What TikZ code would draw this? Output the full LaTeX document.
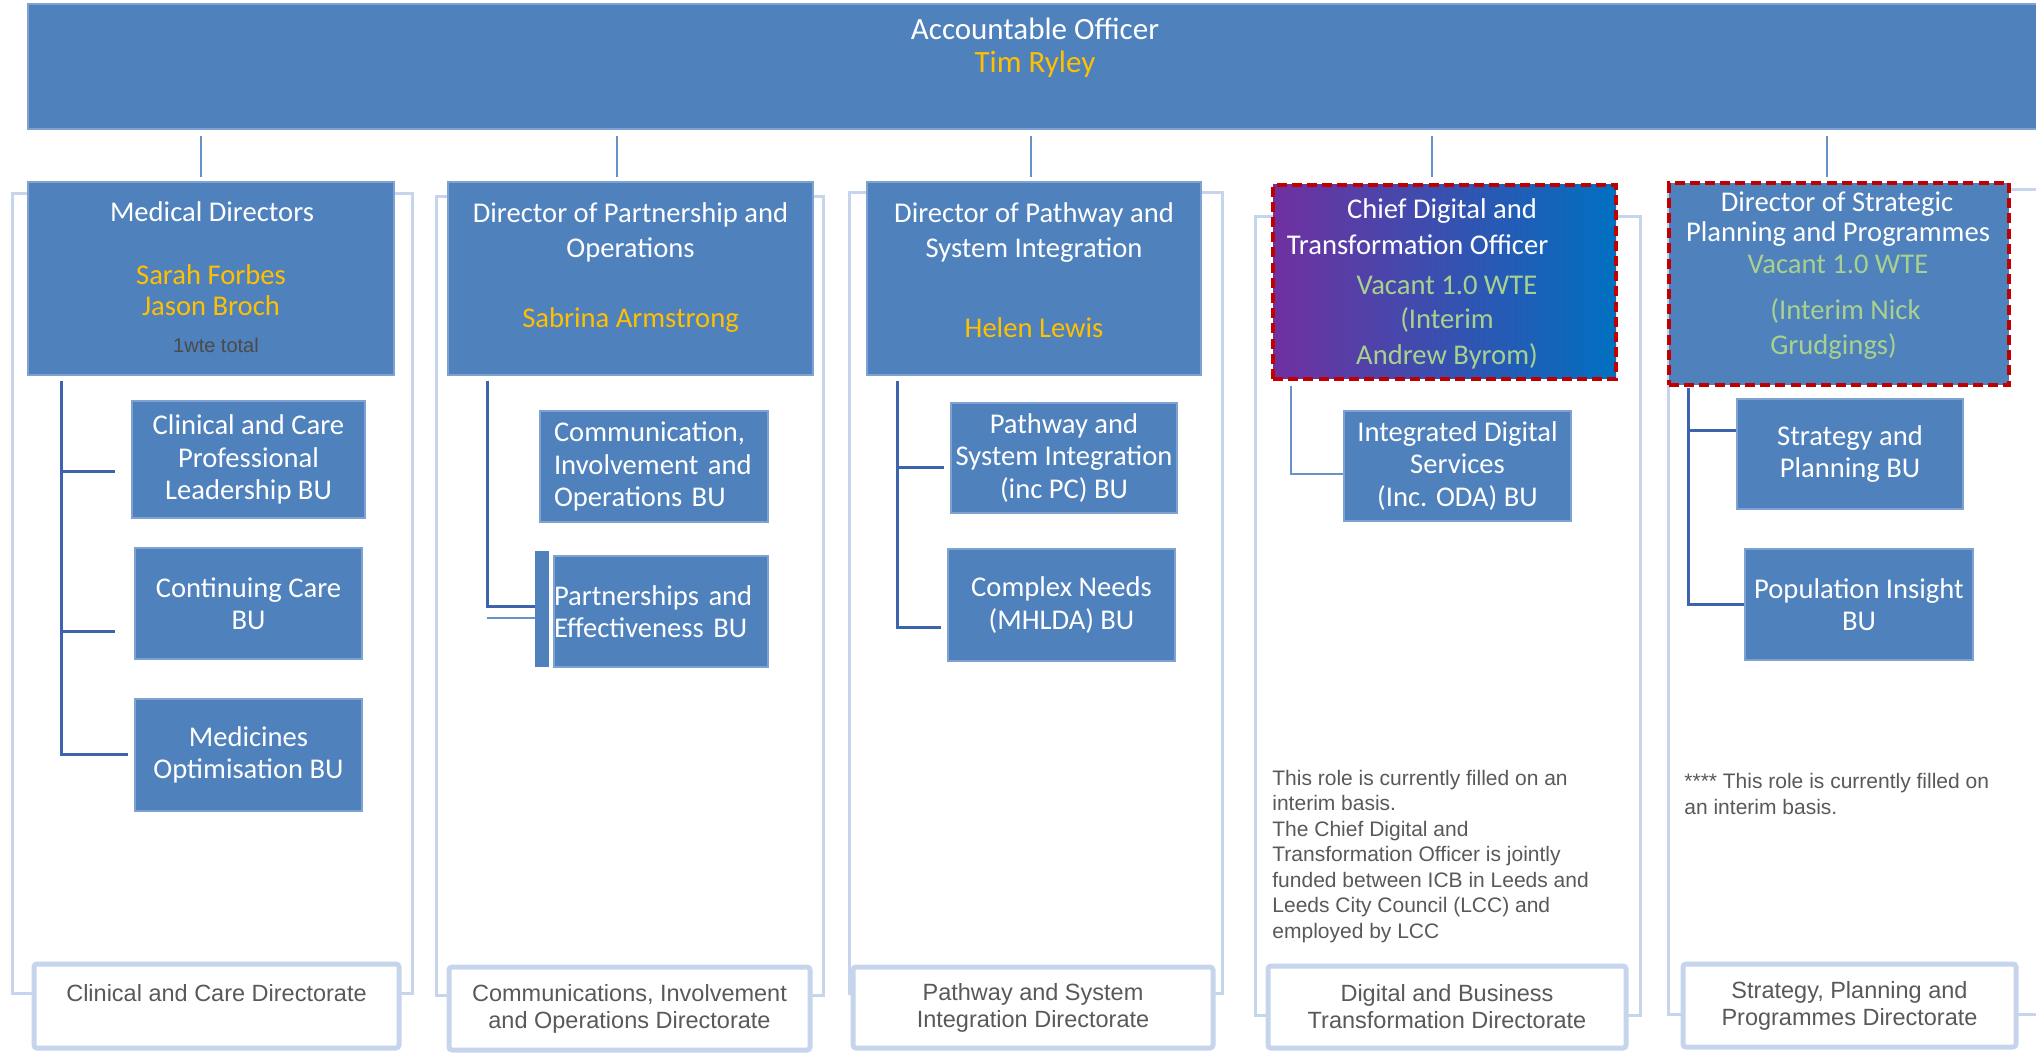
\documentclass[tikz,border=0pt]{standalone}
\usepackage{fontspec}
\setmainfont{Carlito}
\newfontfamily\arialf{Liberation Sans}
\usetikzlibrary{calc}
\definecolor{boxblue}{HTML}{4F81BD}
\definecolor{boxedge}{HTML}{7EA2D2}
\definecolor{connblue}{HTML}{3C63AC}
\definecolor{framecol}{HTML}{C6D5EC}
\definecolor{nameorange}{HTML}{FFC000}
\definecolor{vacgreen}{HTML}{A9D18E}
\definecolor{dashred}{HTML}{C00000}
\definecolor{notegray}{HTML}{595959}
\definecolor{wtegray}{HTML}{4A4A4A}
\definecolor{cdpurple}{HTML}{7030A0}
\definecolor{cdblue}{HTML}{0070C0}
\definecolor{thinblue}{HTML}{6A92CA}
\newcommand\bxnode[7]{%
  \pgfmathsetmacro\bxw{(#5-#3)*0.5}%
  \pgfmathsetmacro\bxh{(#6-#4)*0.5}%
  \pgfmathsetmacro\bxcx{(#3+#5)/2}%
  \pgfmathsetmacro\bxcy{(#4+#6)/2}%
  \node[#1, minimum width=\bxw pt, minimum height=\bxh pt] (#2) at (\bxcx,\bxcy) {#7};}
\tikzset{
  framebox/.style={draw=framecol, line width=1.5pt, inner sep=0pt},
  topbox/.style={fill=boxblue, draw=boxedge, line width=0.6pt, inner sep=0pt},
  ltwobox/.style={fill=boxblue, draw=boxedge, line width=0.6pt, inner sep=0pt},
  bubox/.style={fill=boxblue, draw=boxedge, line width=0.6pt, text=white,
    font=\fontsize{14.3pt}{16.25pt}\selectfont, align=center, inner sep=1pt},
  barbox/.style={fill=boxblue, draw=none, inner sep=0pt},
  dirbox/.style={fill=white, draw=framecol, line width=2.5pt, rounded corners=1.5pt,
    text=notegray, font=\arialf\fontsize{11.75pt}{13.5pt}\selectfont, align=center, inner sep=1pt},
  conn/.style={draw=connblue, line width=1.5pt},
  thinconn/.style={draw=thinblue, line width=0.8pt},
  topconn/.style={draw=thinblue, line width=0.75pt},
  reddash/.style={draw=dashred, line width=2pt, dash pattern=on 5pt off 2.6pt},
  ttl/.style={text=white, font=\fontsize{14.3pt}{16pt}\selectfont, anchor=base, inner sep=0pt},
  bigttl/.style={text=white, font=\fontsize{15.5pt}{18pt}\selectfont, anchor=base, inner sep=0pt},
  nm/.style={text=nameorange, font=\fontsize{14.3pt}{16pt}\selectfont, anchor=base, inner sep=0pt},
  bignm/.style={text=nameorange, font=\fontsize{15.5pt}{18pt}\selectfont, anchor=base, inner sep=0pt},
  vac/.style={text=vacgreen, font=\fontsize{14.3pt}{16pt}\selectfont, anchor=base, inner sep=0pt},
  wte/.style={text=wtegray, font=\arialf\fontsize{10pt}{12pt}\selectfont, anchor=base, inner sep=0pt},
  note/.style={text=notegray, font=\arialf\fontsize{10.5pt}{12.75pt}\selectfont, align=left, anchor=base west, inner sep=0pt},
}
\begin{document}
\begin{tikzpicture}[x=0.5pt, y=-0.5pt]
\useasboundingbox (0,0) rectangle (2036,1053);
\clip (0,0) rectangle (2036,1053);
\fill[white] (0,0) rectangle (2036,1053);

% column frames
\bxnode{framebox}{f1}{12.6}{194}{412}{993}{}
\bxnode{framebox}{f2}{436}{197}{823}{995}{}
\bxnode{framebox}{f3}{849}{193}{1222}{993}{}
\bxnode{framebox}{f4}{1255}{217}{1640}{1015}{}
\bxnode{framebox}{f5}{1668}{190}{2060}{1014}{}

% directorate boxes
\bxnode{dirbox}{dir1}{34}{964}{399}{1048}{Clinical and Care Directorate\\\mbox{}}
\bxnode{dirbox}{dir2}{449}{967}{810}{1050}{Communications, Involvement\\and Operations Directorate}
\bxnode{dirbox}{dir3}{853}{967}{1213}{1048}{Pathway and System\\Integration Directorate}
\bxnode{dirbox}{dir4}{1268}{966}{1626}{1048}{Digital and Business\\Transformation Directorate}
\bxnode{dirbox}{dir5}{1683}{964}{2016}{1047}{Strategy, Planning and\\Programmes Directorate}

% top box
\bxnode{topbox}{top}{28}{4}{2042}{129}{}
\node[bigttl] (t0a) at (1035,39.5) {Accountable Officer};
\node[bignm] (t0b) at (1035,73) {Tim Ryley};

% level 2 boxes
\bxnode{ltwobox}{md}{28}{182}{394}{375}{}
\bxnode{ltwobox}{po}{448}{182}{813}{375}{}
\bxnode{ltwobox}{ps}{867}{182}{1201}{375}{}
\bxnode{left color=cdpurple, right color=cdblue, reddash, inner sep=0pt}{cd}{1273}{185}{1616}{379}{}
\bxnode{fill=boxblue, reddash, inner sep=0pt}{sp}{1669}{183}{2009}{385}{}

\node[ttl] (mdt1) at (212,222) {Medical Directors};
\node[nm] (mdt2) at (211,285) {Sarah Forbes};
\node[nm] (mdt3) at (211,316) {Jason Broch};
\node[wte] (mdt4) at (216,352.5) {1wte total};

\node[ttl] (pot1) at (630.5,222.7) {Director of Partnership and};
\node[ttl] (pot2) at (630.5,258) {Operations};
\node[nm] (pot3) at (630.5,328) {Sabrina Armstrong};

\node[ttl] (pst1) at (1034,223) {Director of Pathway and};
\node[ttl] (pst2) at (1034,258) {System Integration};
\node[nm] (pst3) at (1034,338) {Helen Lewis};

\node[ttl] (cdt1) at (1442,219) {Chief Digital and};
\node[ttl] (cdt2) at (1417.5,255) {Transformation Officer};
\node[vac] (cdt3) at (1447,295) {Vacant 1.0 WTE};
\node[vac] (cdt4) at (1447,329) {(Interim};
\node[vac] (cdt5) at (1447,365) {Andrew Byrom)};

\node[ttl] (spt1) at (1837,211.7) {Director of Strategic};
\node[ttl] (spt2) at (1838,241.7) {Planning and Programmes};
\node[vac] (spt3) at (1838,274) {Vacant 1.0 WTE};
\node[vac, anchor=base west] (spt4) at (1770,320) {(Interim Nick};
\node[vac, anchor=base west] (spt5) at (1770,355) {Grudgings)};

% top connectors
\foreach \n/\dx in {md/-10, po/-13.5, ps/-3, cd/-12.5, sp/-12}{
  \draw[topconn] ($(\n.north |- top.south)+(\dx,6)$) -- ($(\n.north |- top.south)+(\dx,47)$);
}

% business units
\bxnode{bubox}{bu11}{132}{401}{365}{518}{Clinical and Care\\Professional\\Leadership BU}
\bxnode{bubox}{bu12}{135}{548}{362}{659}{Continuing Care\\BU}
\bxnode{bubox}{bu13}{135}{699}{362}{811}{Medicines\\Optimisation BU}
\bxnode{bubox, align=left, text width=100pt, inner xsep=7pt}{bu21}{540}{411}{768}{522}{Communication,\\Involvement and\\Operations BU}
\bxnode{barbox}{pbar}{535}{551}{549}{667}{}
\bxnode{bubox, align=left, text width=107pt, inner xsep=0pt}{bu22}{554}{556}{768}{667}{Partnerships and\\Effectiveness BU}
\bxnode{bubox}{bu31}{951}{403}{1177}{513}{Pathway and\\System Integration\\(inc PC) BU}
\bxnode{bubox}{bu32}{948}{549}{1175}{661}{Complex Needs\\(MHLDA) BU}
\bxnode{bubox}{bu41}{1344}{411}{1571}{521}{Integrated Digital\\Services\\(Inc. ODA) BU}
\bxnode{bubox}{bu51}{1737}{399}{1963}{509}{Strategy and\\Planning BU}
\bxnode{bubox}{bu52}{1745}{549}{1973}{660}{Population Insight\\BU}

% column 1 connectors
\coordinate (c1top) at ($(md.south west)+(34,5)$);
\draw[conn] (c1top) |- ($(bu13.west)+(-6,-1)$);
\coordinate (b11) at ($(bu11.west)+(-16,12.5)$);
\draw[conn] (b11 -| c1top) -- (b11);
\coordinate (b12) at ($(bu12.west)+(-19,27.5)$);
\draw[conn] (b12 -| c1top) -- (b12);

% column 2 connectors
\coordinate (c2top) at ($(po.south west)+(40,5)$);
\draw[conn] (c2top) |- ($(pbar.west)+(0,-2)$);
\coordinate (p2) at ($(pbar.west)+(0,9)$);
\draw[thinconn] (p2 -| c2top) -- (p2);

% column 3 connectors
\coordinate (c3top) at ($(ps.south west)+(31,5)$);
\draw[conn] (c3top) |- ($(bu32.west)+(-6,22)$);
\coordinate (b31) at ($(bu31.west)+(-6,10)$);
\draw[conn] (b31 -| c3top) -- (b31);

% column 4 connector
\coordinate (c4top) at ($(cd.south west)+(20,5)$);
\draw[thinconn] (c4top) |- ($(bu41.west)+(0,8)$);

% column 5 connectors
\coordinate (c5top) at ($(sp.south west)+(21,1)$);
\draw[conn] (c5top) |- ($(bu52.west)+(0,0.5)$);
\coordinate (b51) at ($(bu51.west)+(0,-23)$);
\draw[conn] (b51 -| c5top) -- (b51);

% notes (base anchor = last line baseline)
\node[note] (n4) at (1272,938) {This role is currently filled on an\\interim basis.\\The Chief Digital and\\Transformation Officer is jointly\\funded between ICB in Leeds and\\Leeds City Council (LCC) and\\employed by LCC};
\node[note] (n5) at (1684,814) {**** This role is currently filled on\\an interim basis.};
\end{tikzpicture}
\end{document}
